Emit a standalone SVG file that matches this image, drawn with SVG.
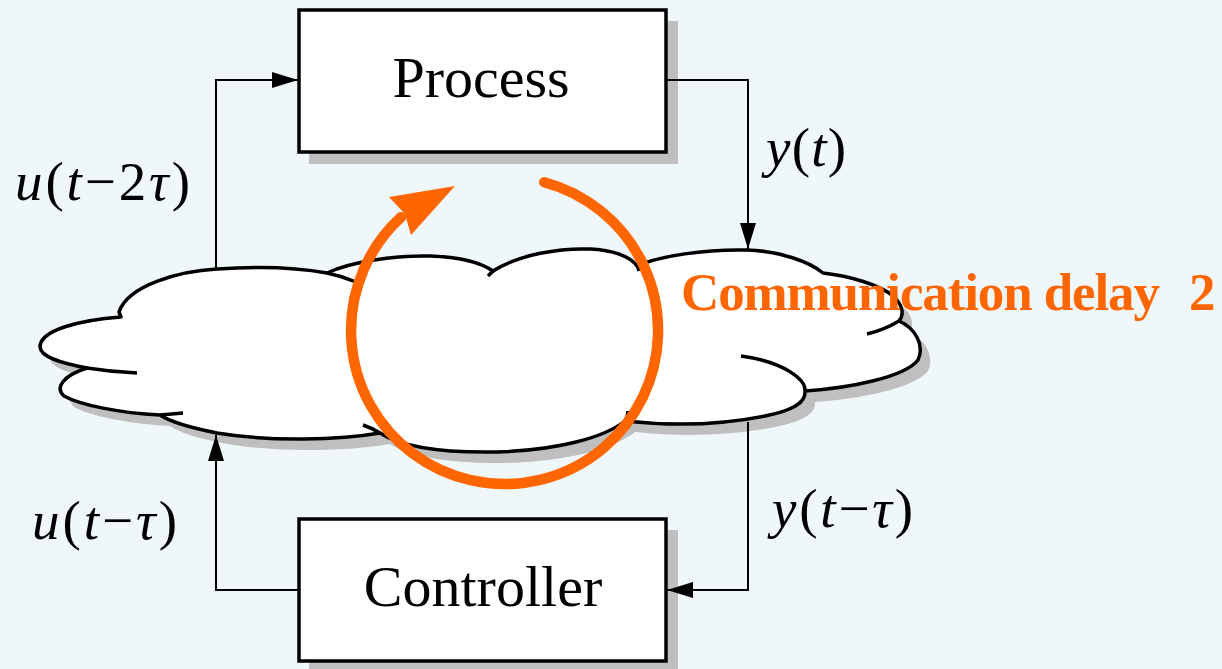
<svg xmlns="http://www.w3.org/2000/svg" width="1222" height="669" viewBox="0 0 1222 669">
  <style>
    .shadow { fill: #bfbfbf; stroke: none; }
    .box { fill: #ffffff; stroke: #000000; stroke-width: 3.5; }
    .cloud { fill: #ffffff; stroke: #000000; stroke-width: 3.5; stroke-linejoin: round; }
    .cloudline { fill: none; stroke: #000000; stroke-width: 3.5; stroke-linecap: butt; }
    .wire { fill: none; stroke: #000000; stroke-width: 2; }
    .label { font-family: "Liberation Serif", "DejaVu Serif", serif; fill: #000000; }
    .math { font-family: "Liberation Serif", "DejaVu Serif", serif; font-size: 55px; fill: #000000; }
    .math .v { font-style: italic; }
    .delay { font-family: "Liberation Serif", "DejaVu Serif", serif; font-weight: bold; font-size: 53px; fill: #ff6600; }
  </style>
  <defs>
    <marker id="arrow" viewBox="0 0 26 16" refX="26" refY="8" markerWidth="26" markerHeight="16" markerUnits="userSpaceOnUse" orient="auto">
      <path d="M0,0 L26,8 L0,16 Z" fill="#000000"/>
    </marker>
    <path id="cloudShape" d="M 40 347
      C 40 330 80 320 121 317
      L 119 312
      C 128 285 180 271 217 269
      C 260 266 300 268 327 273
      C 350 262 395 255 430 256
      C 460 257 480 262 493 271
      C 520 254 560 248 590 249
      C 612 250 630 256 637 266
      C 660 256 705 249 747 250
      C 780 251 810 262 823 273
      C 850 276 880 285 893 296
      C 902 304 905 314 899 321
      C 915 328 925 345 918 360
      C 905 377 850 388 805 391
      C 806 402 795 410 765 416
      C 730 423 680 427 625 421
      C 605 437 560 450 497 452
      C 440 453 400 446 380 433
      C 340 440 270 442 217 433
      C 192 428 172 423 160 415
      C 120 413 80 405 64 396
      C 55 388 62 376 87 368
      C 60 363 41 357 40 347 Z"/>
  </defs>

  <!-- backdrop -->
  <rect x="0" y="0" width="1222" height="669" fill="#f0f7fa"/>

  <!-- network cloud -->
  <g id="network">
    <use href="#cloudShape" class="shadow" transform="translate(10,11)"/>
    <use href="#cloudShape" class="cloud"/>
    <path class="cloudline" d="M 327 273 Q 342 276 356 282"/>
    <path class="cloudline" d="M 488 276 L 494 270"/>
    <path class="cloudline" d="M 637 265 L 639 271"/>
    <path class="cloudline" d="M 899 321 Q 884 330 867 334"/>
    <path class="cloudline" d="M 805 391 C 806 380 785 362 741 356"/>
    <path class="cloudline" d="M 625 421 Q 628 416 628 411"/>
    <path class="cloudline" d="M 380 433 Q 372 428 363 425"/>
    <path class="cloudline" d="M 160 415 Q 172 414 183 413"/>
    <path class="cloudline" d="M 87 368 Q 112 372 137 373"/>
  </g>

  <!-- process block -->
  <g id="process">
    <rect class="shadow" x="309" y="21" width="369" height="143"/>
    <rect class="box" x="299" y="10" width="367" height="142"/>
    <text class="label" x="481" y="97" font-size="58" text-anchor="middle">Process</text>
  </g>

  <!-- controller block -->
  <g id="controller">
    <rect class="shadow" x="309" y="530" width="369" height="143"/>
    <rect class="box" x="299" y="519" width="367" height="142"/>
    <text class="label" x="483" y="606" font-size="58" text-anchor="middle">Controller</text>
  </g>

  <!-- signal paths -->
  <g id="connectors">
    <path class="wire" d="M 216 269 L 216 80 L 298 80" marker-end="url(#arrow)"/>
    <path class="wire" d="M 667 80 L 748 80 L 748 249" marker-end="url(#arrow)"/>
    <path class="wire" d="M 748 422 L 748 590 L 667 590" marker-end="url(#arrow)"/>
    <path class="wire" d="M 298 590 L 216 590 L 216 435" marker-end="url(#arrow)"/>
  </g>

  <!-- signal labels -->
  <g id="labels">
    <text class="math" x="15" y="200" textLength="175" lengthAdjust="spacing"><tspan class="v">u</tspan>(<tspan class="v">t</tspan>−2<tspan class="v">τ</tspan>)</text>
    <text class="math" x="766" y="166" textLength="80" lengthAdjust="spacing"><tspan class="v">y</tspan>(<tspan class="v">t</tspan>)</text>
    <text class="math" x="32" y="539" textLength="145" lengthAdjust="spacing"><tspan class="v">u</tspan>(<tspan class="v">t</tspan>−<tspan class="v">τ</tspan>)</text>
    <text class="math" x="772" y="527" textLength="141" lengthAdjust="spacing"><tspan class="v">y</tspan>(<tspan class="v">t</tspan>−<tspan class="v">τ</tspan>)</text>
  </g>

  <!-- circulating delay loop -->
  <g id="delay-loop">
    <path d="M 544.2 182.2 A 153.5 153.5 0 1 1 401 217.2" fill="none" stroke="#ff6600" stroke-width="10.5" stroke-linecap="round"/>
    <path d="M 389 197 L 455 186 L 411 235 L 405 214 Z" fill="#ff6600"/>
  </g>

  <g id="delay-label">
    <text class="delay" x="681" y="310" textLength="479" lengthAdjust="spacing">Communication delay</text>
    <text class="delay" x="1189" y="310">2</text>
  </g>
</svg>
